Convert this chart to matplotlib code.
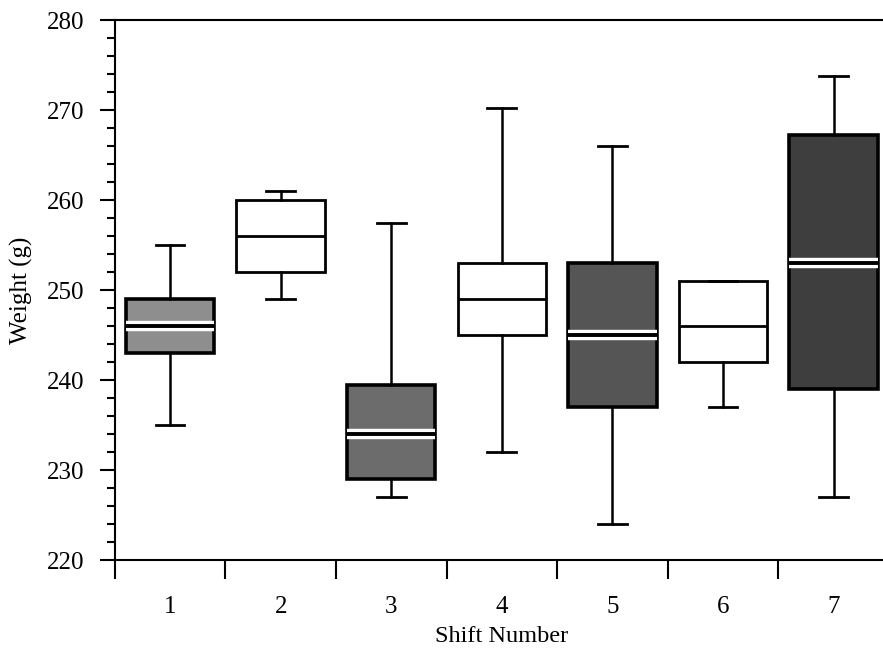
import matplotlib
matplotlib.use("Agg")
import matplotlib.pyplot as plt
import matplotlib.patheffects as pe
from matplotlib.ticker import MultipleLocator

plt.rcParams['font.family'] = ['Liberation Serif', 'DejaVu Serif']

# box statistics
shifts = ["1", "2", "3", "4", "5", "6", "7"]
whis_low = [235, 249, 227, 232, 224, 237, 227]
q1 = [243, 252, 229, 245, 237, 242, 239]
median = [246, 256, 234, 249, 245, 246, 253]
q3 = [249, 260, 239.5, 253, 253, 251, 267.2]
whis_high = [255, 261, 257.5, 270.2, 266, 251, 273.8]
fills = ["#8e8e8e", "white", "#6c6c6c", "white", "#555555", "white", "#3e3e3e"]

stats = []
for i in range(len(shifts)):
    stats.append({"whislo": whis_low[i], "q1": q1[i], "med": median[i],
                  "q3": q3[i], "whishi": whis_high[i], "fliers": []})

fig = plt.figure(figsize=(8.83, 6.62), dpi=100)
ax = fig.add_axes([0.130, 0.154, 0.8766, 0.8157])

pos = list(range(1, len(shifts) + 1))
bp = ax.bxp(stats, positions=pos, widths=0.8, patch_artist=True,
            showfliers=False, capwidths=0.26,
            boxprops=dict(edgecolor="black", linewidth=2.0),
            whiskerprops=dict(color="black", linewidth=1.8),
            capprops=dict(color="black", linewidth=2.0),
            medianprops=dict(color="black", linewidth=2.0))

for w in bp["whiskers"] + bp["caps"]:
    w.set_zorder(5)

for box, med, c in zip(bp["boxes"], bp["medians"], fills):
    box.set_facecolor(c)
    box.set_zorder(3)
    med.set_zorder(4)
    if c != "white":
        box.set_linewidth(2.6)
        box.set_path_effects([pe.Stroke(linewidth=7, foreground="white"), pe.Normal()])
        med.set_path_effects([pe.Stroke(linewidth=7.5, foreground="white"),
                              pe.Stroke(linewidth=2.8, foreground="black")])

ax.set_xlim(0.5, 7.5)
ax.set_ylim(220, 280)

ax.yaxis.set_major_locator(MultipleLocator(10))
ax.yaxis.set_minor_locator(MultipleLocator(2))
ax.tick_params(axis="y", which="major", direction="out", length=11, width=1.5,
               labelsize=18, pad=11)
ax.tick_params(axis="y", which="minor", direction="out", length=6, width=1.5)

# ticks between categories, labels at the centres
ax.set_xticks([p - 0.5 for p in pos] + [7.5])
ax.set_xticklabels([])
ax.set_xticks(pos, minor=True)
ax.set_xticklabels(shifts, minor=True)
ax.tick_params(axis="x", which="major", direction="out", length=14, width=1.5)
ax.tick_params(axis="x", which="minor", length=0, labelsize=18, pad=26)

for s in ax.spines.values():
    s.set_linewidth(1.5)

ax.set_xlabel("Shift Number", fontsize=17.5, labelpad=6)
ax.set_ylabel("Weight (g)", fontsize=18, labelpad=10)

fig.savefig("out.png", dpi=100)
